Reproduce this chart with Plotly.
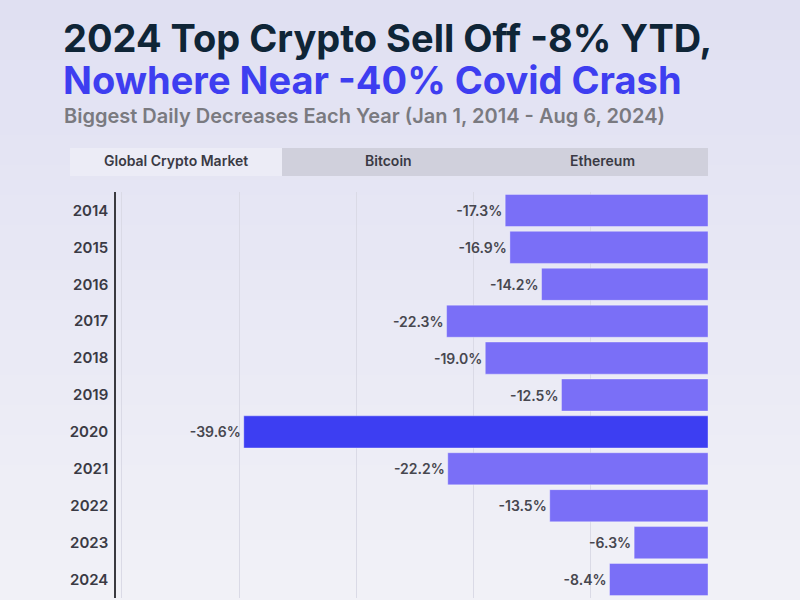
import plotly.graph_objects as go

years = ["2014", "2015", "2016", "2017", "2018", "2019", "2020", "2021", "2022", "2023", "2024"]
values = [-17.3, -16.9, -14.2, -22.3, -19.0, -12.5, -39.6, -22.2, -13.5, -6.3, -8.4]
labels = ["-17.3%", "-16.9%", "-14.2%", "-22.3%", "-19.0%", "-12.5%", "-39.6%", "-22.2%", "-13.5%", "-6.3%", "-8.4%"]
tabs = ["Global Crypto Market", "Bitcoin", "Ethereum"]

highlight_year = "2020"
colors = ["#3d3ef2" if y == highlight_year else "#7a6ff7" for y in years]

W, H = 800, 600
L, R, T, B = 116, 92, 192, 2
pw, ph = W - L - R, H - T - B

def px(x):
    return (x - L) / pw

def py(y):
    return (H - B - y) / ph

fig = go.Figure()
fig.add_trace(go.Bar(
    x=values, y=years, orientation="h",
    marker=dict(color=colors, line=dict(color="rgba(255,255,255,0.35)", width=1)),
    text=labels, textposition="outside", cliponaxis=False,
    textfont=dict(family="Inter", size=14, color="#47474f", weight=600),
    hoverinfo="skip",
))

shapes = []
# vertical background gradient (top lavender -> bottom near white)
top_c = (224, 224, 242)
bot_c = (241, 241, 247)
n = 40
for i in range(n):
    f = i / (n - 1)
    c = tuple(round(top_c[k] + (bot_c[k] - top_c[k]) * f) for k in range(3))
    y0 = i * H / n
    y1 = (i + 1) * H / n + 1
    shapes.append(dict(type="rect", xref="paper", yref="paper",
                       x0=px(0), x1=px(W), y0=py(y1), y1=py(y0),
                       fillcolor="rgb(%d,%d,%d)" % c, line=dict(width=0), layer="below"))

# tabs
tab_edges = [70, 282, 495, 708]
tab_fill = ["#ececf6", "#d0d0dc", "#d0d0dc"]
for i in range(3):
    shapes.append(dict(type="rect", xref="paper", yref="paper",
                       x0=px(tab_edges[i]), x1=px(tab_edges[i + 1]),
                       y0=py(176), y1=py(148), fillcolor=tab_fill[i], line=dict(width=0), layer="below"))

annotations = []
tab_centers = [176, 388, 602]
for t, c in zip(tabs, tab_centers):
    annotations.append(dict(text=t, xref="paper", yref="paper", x=px(c), y=py(161),
                            xanchor="center", yanchor="middle", showarrow=False,
                            font=dict(family="Inter", size=14, color="#3a3a44", weight=600)))

annotations.append(dict(text="2024 Top Crypto Sell Off -8% YTD,", xref="paper", yref="paper",
                        x=px(61), y=py(38), xanchor="left", yanchor="middle", showarrow=False,
                        font=dict(family="Inter", size=38, color="#0f2537", weight=700)))
annotations.append(dict(text="Nowhere Near -40% Covid Crash", xref="paper", yref="paper",
                        x=px(61), y=py(80), xanchor="left", yanchor="middle", showarrow=False,
                        font=dict(family="Inter", size=38, color="#3e3ef0", weight=700)))
annotations.append(dict(text="Biggest Daily Decreases Each Year (Jan 1, 2014 - Aug 6, 2024)", xref="paper", yref="paper",
                        x=px(62), y=py(116), xanchor="left", yanchor="middle", showarrow=False,
                        font=dict(family="Inter", size=20, color="#7a7a80", weight=600)))

fig.update_layout(
    width=W, height=H,
    margin=dict(l=L, r=R, t=T, b=B),
    paper_bgcolor="#e6e6f4",
    plot_bgcolor="rgba(0,0,0,0)",
    showlegend=False,
    bargap=0.13,
    shapes=shapes,
    annotations=annotations,
    xaxis=dict(range=[-50.5, 0], tickvals=[-50, -40, -30, -20, -10], showticklabels=False,
               showgrid=True, gridcolor="#dadae6", gridwidth=1, zeroline=False, fixedrange=True),
    yaxis=dict(categoryorder="array", categoryarray=years, autorange="reversed",
               showline=True, linecolor="#3a3a40", linewidth=1.5, ticks="",
               ticklabelstandoff=3,
               tickfont=dict(family="Inter", size=15, color="#3a3a44", weight=600),
               showgrid=False, fixedrange=True),
)

fig.write_html("out.html")
